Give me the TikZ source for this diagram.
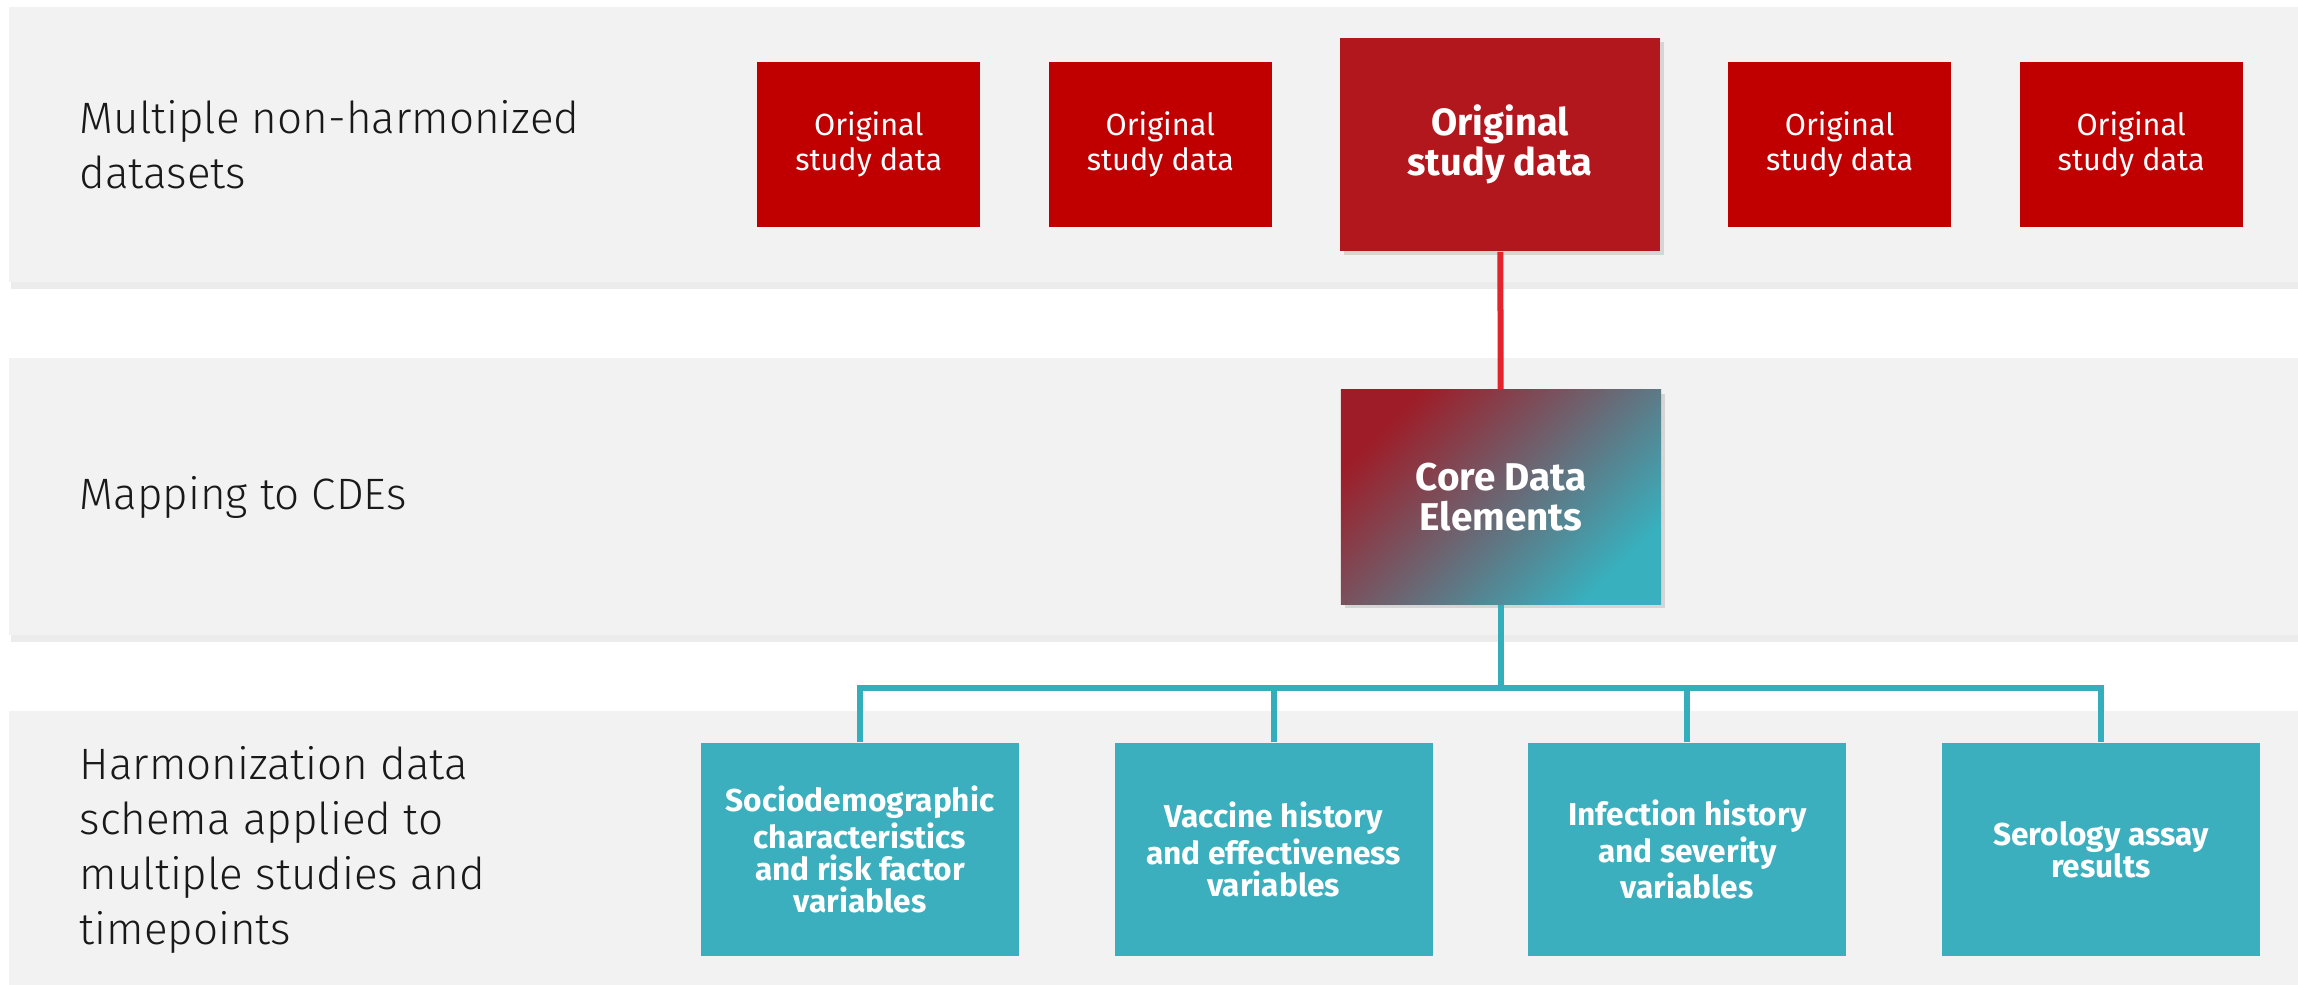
\documentclass[tikz,border=0pt]{standalone}
\usepackage{fontspec}
\setmainfont{Fira Sans}
\newfontfamily\lightfont{Fira Sans Light}
\usetikzlibrary{positioning,shadows}
\definecolor{bandgray}{HTML}{F2F2F2}
\definecolor{origred}{HTML}{C00000}
\definecolor{bigred}{HTML}{B3171E}
\definecolor{cdered}{HTML}{9E1C27}
\definecolor{cdeteal}{HTML}{38B0BE}
\definecolor{harmteal}{HTML}{3BAFBE}
\definecolor{linered}{HTML}{E3242B}
\definecolor{lineteal}{HTML}{35AEBC}

\begin{document}
\begin{tikzpicture}[x=0.01cm, y=-0.01cm, node distance=6.7mm,
    band/.style = {fill=bandgray, drop shadow={shadow xshift=0.2mm, shadow yshift=-0.7mm, opacity=0.15}},
    rowlabel/.style = {anchor=west, align=left, inner sep=0pt, text=black!90,
      font=\lightfont\fontsize{12.5}{15.6}\selectfont},
    orig/.style = {fill=origred, text=white, align=center, inner sep=0pt,
      minimum width=22.3mm, minimum height=16.5mm, font=\fontsize{8.7}{10}\selectfont},
    bigorig/.style = {fill=bigred, text=white, align=center, inner sep=0pt,
      minimum width=31.9mm, minimum height=21.3mm, font=\bfseries\fontsize{10.8}{11.4}\selectfont,
      drop shadow={shadow xshift=0.4mm, shadow yshift=-0.4mm, opacity=0.25}},
    cdebox/.style = {top color=cdered, bottom color=cdeteal, shading angle=45, text=white,
      align=center, inner sep=0pt, minimum width=32mm, minimum height=21.4mm,
      font=\bfseries\fontsize{11}{11.2}\selectfont,
      drop shadow={shadow xshift=0.4mm, shadow yshift=-0.4mm, opacity=0.25}},
    harm/.style = {fill=harmteal, text=white, align=center, inner sep=0pt,
      minimum width=31.8mm, minimum height=21.3mm, font=\bfseries\fontsize{9}{9.1}\selectfont},
    redline/.style = {draw=linered, line width=0.6mm},
    tealline/.style = {draw=lineteal, line width=0.6mm}]
  \useasboundingbox (0,0) rectangle (2298,984);

  % background bands
  \fill[band] (9,7) rectangle (2298,282);
  \fill[band] (9,358) rectangle (2298,635);
  \fill[band] (9,711) rectangle (2310,1000);

  \node[rowlabel] (l1) at (79,145) {Multiple non-harmonized\\datasets};
  \node[rowlabel] (l2) at (79,497) {Mapping to CDEs};
  \node[rowlabel] (l3) at (79,850) {Harmonization data\\schema applied to\\multiple studies and\\timepoints};

  % original datasets
  \node[bigorig] (d3) at (1500,144.5) {Original\\study data};
  \node[orig] (d2) [left=of d3] {Original\\study data};
  \node[orig] (d1) [left=of d2] {Original\\study data};
  \node[orig] (d4) [right=of d3] {Original\\study data};
  \node[orig] (d5) [right=of d4] {Original\\study data};

  \node[cdebox] (cde) at (1501,497) {Core Data\\Elements};

  % harmonized schema
  \node[harm] (h1) at (860,849.5) {Sociodemographic\\characteristics\\and risk factor\\variables};
  \node[harm] (h2) [right=9.4mm of h1] {Vaccine history\\and effectiveness\\variables};
  \node[harm] (h3) [right=9.4mm of h2] {Infection history\\and severity\\variables};
  \node[harm] (h4) [right=9.4mm of h3] {Serology assay\\results};

  \coordinate (bus) at (1501,688);
  \draw[redline] (d3) -- (cde);
  \draw[tealline] (cde) -- (bus);
  \draw[tealline] (h1.north) |- (bus) -| (h4.north);
  \draw[tealline] (h2.north) -- (h2.north |- bus);
  \draw[tealline] (h3.north) -- (h3.north |- bus);
\end{tikzpicture}
\end{document}
